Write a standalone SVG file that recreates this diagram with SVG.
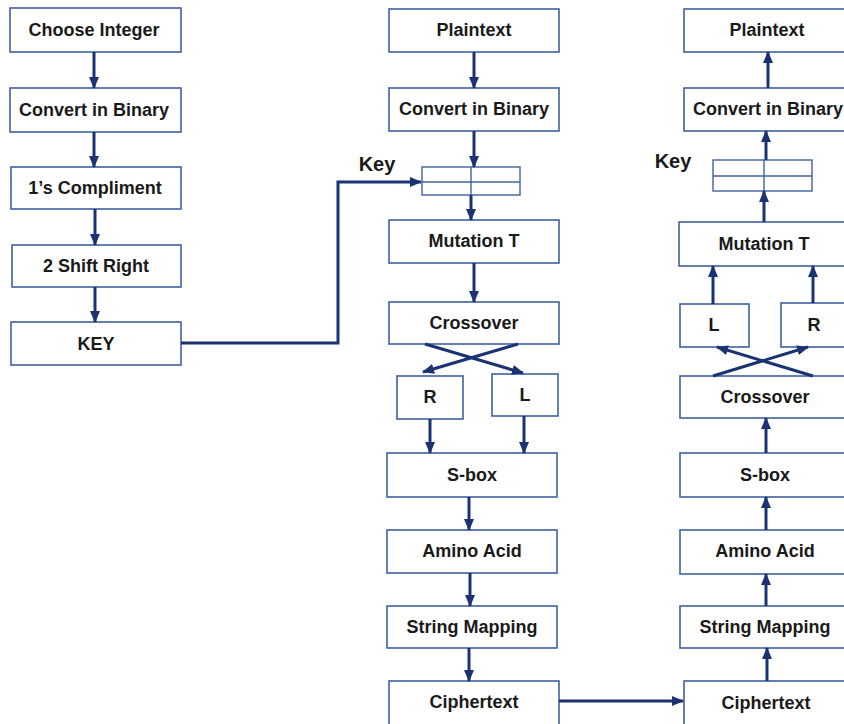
<svg xmlns="http://www.w3.org/2000/svg" width="844" height="724" viewBox="0 0 844 724">
  <defs>
    <style>
      .box { fill: #ffffff; stroke: #3f62a0; stroke-width: 1.6; }
      .grid { fill: none; stroke: #3f62a0; stroke-width: 1.4; }
      .lbl { font-family: "Liberation Sans", Arial, sans-serif; font-weight: bold; font-size: 18px; fill: #1a1a1a; text-anchor: middle; }
      .key { font-family: "Liberation Sans", Arial, sans-serif; font-weight: bold; font-size: 20px; fill: #1a1a1a; text-anchor: middle; }
      .arr { fill: none; stroke: #1b3373; stroke-width: 3; marker-end: url(#head); }
    </style>
    <marker id="head" markerUnits="userSpaceOnUse" markerWidth="12" markerHeight="12" viewBox="0 0 12 12" refX="11" refY="6" orient="auto">
      <path d="M0,1 L12,6 L0,11 Z" fill="#1b3373"/>
    </marker>
  </defs>

  <!-- key generation column -->
  <g id="choose-integer"><rect class="box" x="10" y="8" width="171" height="44"/><text class="lbl" x="94" y="36">Choose Integer</text></g>
  <g id="key-convert-binary"><rect class="box" x="10" y="88" width="171" height="44"/><text class="lbl" x="94" y="116">Convert in Binary</text></g>
  <g id="ones-compliment"><rect class="box" x="11" y="167" width="170" height="42"/><text class="lbl" x="95" y="194">1’s Compliment</text></g>
  <g id="shift-right"><rect class="box" x="12" y="245" width="169" height="42"/><text class="lbl" x="96" y="272">2 Shift Right</text></g>
  <g id="key-out"><rect class="box" x="11" y="322" width="170" height="43"/><text class="lbl" x="96" y="350">KEY</text></g>

  <!-- encryption column -->
  <g id="enc-plaintext"><rect class="box" x="389" y="9" width="170" height="43"/><text class="lbl" x="474" y="36">Plaintext</text></g>
  <g id="enc-convert-binary"><rect class="box" x="389" y="88" width="170" height="43"/><text class="lbl" x="474" y="115">Convert in Binary</text></g>
  <g id="enc-key-block">
    <rect class="grid" x="422" y="167" width="98" height="28"/>
    <line class="grid" x1="422" y1="182" x2="520" y2="182"/>
    <line class="grid" x1="471" y1="167" x2="471" y2="195"/>
    <text class="key" x="377" y="171">Key</text>
  </g>
  <g id="enc-mutation"><rect class="box" x="389" y="220" width="170" height="43"/><text class="lbl" x="474" y="247">Mutation T</text></g>
  <g id="enc-crossover"><rect class="box" x="389" y="302" width="170" height="42"/><text class="lbl" x="474" y="329">Crossover</text></g>
  <g id="enc-r"><rect class="box" x="397" y="376" width="66" height="43"/><text class="lbl" x="430" y="403">R</text></g>
  <g id="enc-l"><rect class="box" x="492" y="374" width="66" height="42"/><text class="lbl" x="525" y="401">L</text></g>
  <g id="enc-sbox"><rect class="box" x="387" y="453" width="170" height="44"/><text class="lbl" x="472" y="481">S-box</text></g>
  <g id="enc-amino"><rect class="box" x="387" y="530" width="170" height="43"/><text class="lbl" x="472" y="557">Amino Acid</text></g>
  <g id="enc-string-map"><rect class="box" x="387" y="606" width="170" height="42"/><text class="lbl" x="472" y="633">String Mapping</text></g>
  <g id="enc-ciphertext"><rect class="box" x="389" y="681" width="170" height="44"/><text class="lbl" x="474" y="708">Ciphertext</text></g>

  <!-- decryption column -->
  <g id="dec-plaintext"><rect class="box" x="684" y="9" width="166" height="43"/><text class="lbl" x="767" y="36">Plaintext</text></g>
  <g id="dec-convert-binary"><rect class="box" x="684" y="88" width="166" height="43"/><text class="lbl" x="768" y="115">Convert in Binary</text></g>
  <g id="dec-key-block">
    <rect class="grid" x="713" y="160" width="99" height="31"/>
    <line class="grid" x1="713" y1="176" x2="812" y2="176"/>
    <line class="grid" x1="764" y1="160" x2="764" y2="191"/>
    <text class="key" x="673" y="168">Key</text>
  </g>
  <g id="dec-mutation"><rect class="box" x="679" y="222" width="171" height="44"/><text class="lbl" x="764" y="250">Mutation T</text></g>
  <g id="dec-l"><rect class="box" x="680" y="304" width="69" height="43"/><text class="lbl" x="714" y="331">L</text></g>
  <g id="dec-r"><rect class="box" x="781" y="303" width="69" height="44"/><text class="lbl" x="814" y="331">R</text></g>
  <g id="dec-crossover"><rect class="box" x="680" y="376" width="170" height="42"/><text class="lbl" x="765" y="403">Crossover</text></g>
  <g id="dec-sbox"><rect class="box" x="680" y="453" width="170" height="44"/><text class="lbl" x="765" y="481">S-box</text></g>
  <g id="dec-amino"><rect class="box" x="680" y="530" width="170" height="44"/><text class="lbl" x="765" y="557">Amino Acid</text></g>
  <g id="dec-string-map"><rect class="box" x="680" y="606" width="170" height="42"/><text class="lbl" x="765" y="633">String Mapping</text></g>
  <g id="dec-ciphertext"><rect class="box" x="684" y="681" width="166" height="44"/><text class="lbl" x="766" y="709">Ciphertext</text></g>

  <g id="connectors">
    <!-- key generation -->
    <path class="arr" d="M94,52 V88"/>
    <path class="arr" d="M94,132 V167"/>
    <path class="arr" d="M95,209 V245"/>
    <path class="arr" d="M95,287 V322"/>
    <path class="arr" d="M181,343 H338 V182 H421"/>

    <!-- encryption -->
    <path class="arr" d="M474,52 V88"/>
    <path class="arr" d="M474,131 V167"/>
    <path class="arr" d="M471,195 V220"/>
    <path class="arr" d="M474,263 V302"/>
    <path class="arr" d="M425,344 L523,373"/>
    <path class="arr" d="M518,344 L423,372"/>
    <path class="arr" d="M430,419 V453"/>
    <path class="arr" d="M524,416 V453"/>
    <path class="arr" d="M469,497 V530"/>
    <path class="arr" d="M470,573 V606"/>
    <path class="arr" d="M469,648 V681"/>
    <path class="arr" d="M559,701 H683"/>

    <!-- decryption -->
    <path class="arr" d="M767,681 V648"/>
    <path class="arr" d="M766,606 V574"/>
    <path class="arr" d="M766,530 V497"/>
    <path class="arr" d="M766,453 V418"/>
    <path class="arr" d="M713,376 L808,347"/>
    <path class="arr" d="M813,376 L717,347"/>
    <path class="arr" d="M713,304 V266"/>
    <path class="arr" d="M813,303 V266"/>
    <path class="arr" d="M764,222 V191"/>
    <path class="arr" d="M766,160 V131"/>
    <path class="arr" d="M768,88 V52"/>
  </g>
</svg>
